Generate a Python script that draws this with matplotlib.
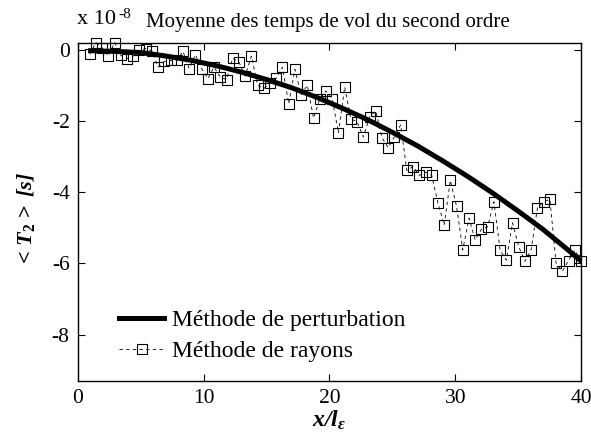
import numpy as np
import matplotlib.pyplot as plt

# valeurs en unites de 1e-8 s
x_pert = [1, 3, 5, 7, 9, 11, 13, 15, 17, 19, 21, 23, 25, 27, 29, 31, 33, 35, 37, 39, 40]
y_pert = [-0.03, -0.05, -0.08, -0.18, -0.30, -0.45, -0.63, -0.84, -1.07, -1.34, -1.64,
          -1.96, -2.32, -2.70, -3.12, -3.56, -4.03, -4.53, -5.05, -5.63, -5.93]

# grille des rayons (pas regulier ~0.5)
x_ray = np.round(np.linspace(0.93, 40.0, 80), 2)
y_ray = [-0.13, 0.20, 0.05, -0.18, 0.20, -0.16, -0.25, -0.18, -0.02, 0.03,
         -0.04, -0.49, -0.33, -0.30, -0.30, -0.05, -0.53, -0.14, -0.53, -0.81,
         -0.49, -0.77, -0.84, -0.24, -0.35, -0.74, -0.18, -1.00, -1.09, -0.95,
         -0.80, -0.49, -1.52, -0.55, -1.26, -1.00, -1.92, -1.38, -1.16, -1.38,
         -2.34, -1.05, -1.94, -2.03, -2.45, -1.89, -1.72, -2.47, -2.75, -2.45,
         -2.11, -3.39, -3.28, -3.53, -3.44, -3.53, -4.31, -4.93, -3.67, -4.40,
         -5.62, -4.73, -5.34, -5.04, -4.97, -4.27, -5.63, -5.91, -4.86, -5.53,
         -5.94, -5.61, -4.44, -4.27, -4.20, -5.99, -6.22, -5.92, -5.63, -5.92]

xticks = [0, 10, 20, 30, 40]
yticks = [0, -2, -4, -6, -8]

plt.rcParams['font.family'] = ['Liberation Serif', 'DejaVu Serif']
plt.rcParams['mathtext.fontset'] = 'custom'
plt.rcParams['mathtext.rm'] = 'Liberation Serif'
plt.rcParams['mathtext.it'] = 'Liberation Serif:italic'
plt.rcParams['mathtext.bf'] = 'Liberation Serif:bold'
plt.rcParams['mathtext.bfit'] = 'Liberation Serif:italic:bold'

fig = plt.figure(figsize=(5.91, 4.43), dpi=100)
ax = fig.add_axes([0.132, 0.140, 0.851, 0.764])

ax.plot(x_pert, y_pert, 'k-', linewidth=3.6, label='Méthode de perturbation', zorder=3)
ax.plot(x_ray, y_ray, color='k', linestyle=(0, (4, 4)), linewidth=0.6,
        marker='s', markersize=6.5, markerfacecolor='none', markeredgewidth=0.8,
        label='Méthode de rayons', zorder=2, clip_on=False)

ax.set_xlim(0, 40)
ax.set_ylim(-9.3, 0.2)
ax.set_xticks(xticks)
ax.set_yticks(yticks)
ax.set_xticklabels([str(v) for v in xticks])
ax.set_yticklabels([str(v) for v in yticks])
ax.tick_params(direction='in', top=True, right=True, length=5, width=0.8,
               labelsize=15.5, pad=6)
for s in ax.spines.values():
    s.set_linewidth(1.0)

ax.set_xlabel(r'$\mathbfit{x/l}_{\mathbfit{\varepsilon}}$', fontsize=17, labelpad=0)
ax.set_ylabel(r'$\mathbf{<}\,\mathbfit{T}_{\mathbf{2}}\,\mathbf{>}\;\mathbfit{[s]}$',
              fontsize=16)
ax.yaxis.set_label_coords(-0.082, 0.476)

fig.text(0.130, 0.935, 'x 10', fontsize=16, ha='left', va='bottom')
fig.text(0.200, 0.953, '-8', fontsize=11, ha='left', va='bottom')
ax.set_title('Moyenne des temps de vol du second ordre', fontsize=15, pad=11, x=0.497)

ax.legend(loc='lower left', bbox_to_anchor=(0.063, 0.028), frameon=False,
          fontsize=17, handlelength=1.9, handletextpad=0.35, labelspacing=0.4,
          borderaxespad=0)

fig.savefig('out.png', dpi=100)
